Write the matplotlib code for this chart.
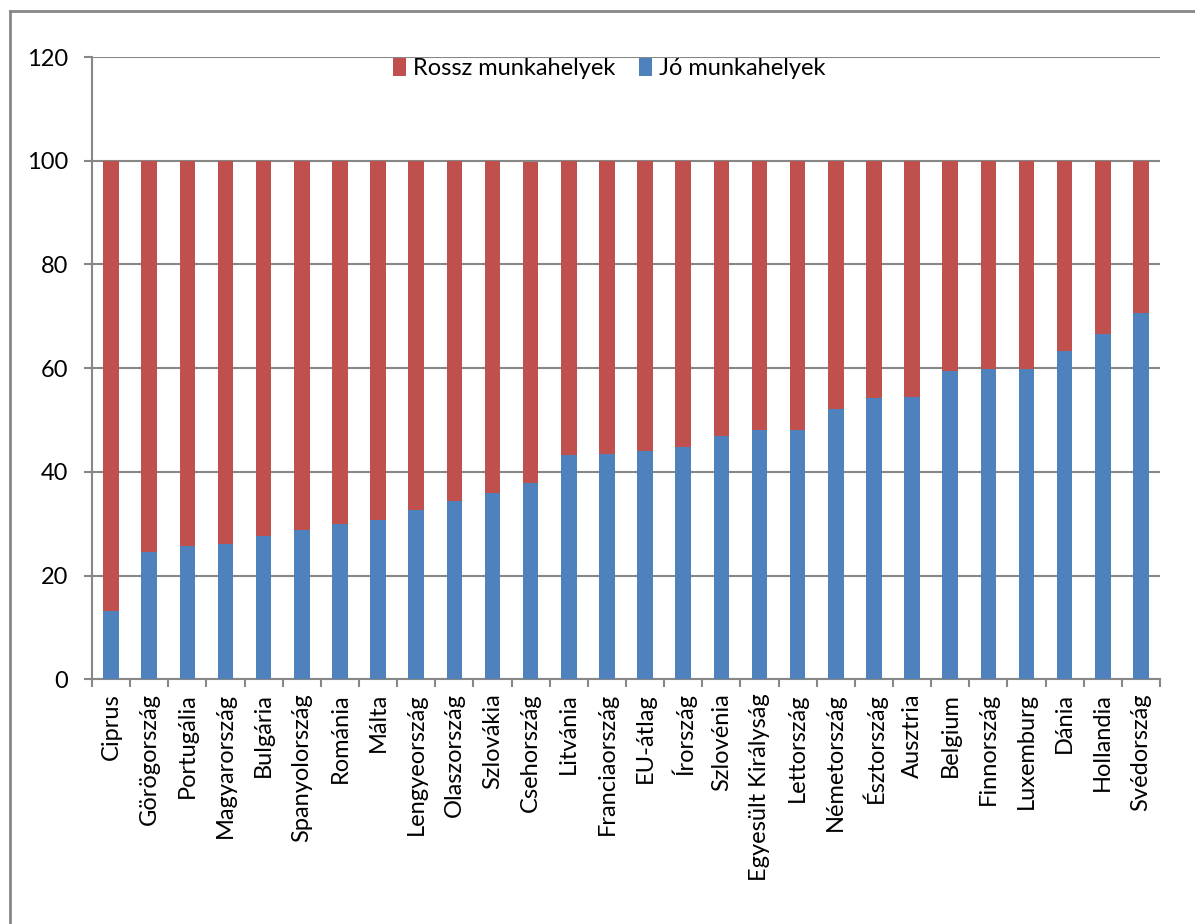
import matplotlib.pyplot as plt
import numpy as np
from matplotlib.lines import Line2D

countries = ['Ciprus', 'Görögország', 'Portugália', 'Magyarország', 'Bulgária',
             'Spanyolország', 'Románia', 'Málta', 'Lengyeország', 'Olaszország',
             'Szlovákia', 'Csehország', 'Litvánia', 'Franciaország', 'EU-átlag',
             'Írország', 'Szlovénia', 'Egyesült Királyság', 'Lettország',
             'Németország', 'Észtország', 'Ausztria', 'Belgium', 'Finnország',
             'Luxemburg', 'Dánia', 'Hollandia', 'Svédország']

# good jobs (blue, bottom) and bad jobs (red, top)
jo = [13.1, 24.5, 25.8, 26.1, 27.7, 28.8, 30.0, 30.7, 32.7, 34.4,
      35.9, 37.9, 43.3, 43.5, 44.0, 44.8, 47.0, 48.1, 48.1,
      52.2, 54.2, 54.4, 59.5, 59.9, 59.9, 63.4, 66.5, 70.7]
rossz = [86.9, 75.5, 74.2, 73.9, 72.3, 71.2, 70.0, 69.3, 67.3, 65.6,
         64.1, 61.8, 56.7, 56.5, 56.0, 55.2, 53.0, 51.9, 51.9,
         47.8, 45.8, 45.6, 40.5, 40.1, 40.1, 36.6, 33.5, 29.3]

plt.rcParams['font.family'] = ['Lato', 'DejaVu Sans']

fig = plt.figure(figsize=(11.95, 9.24), dpi=100)
ax = fig.add_axes([92 / 1195, 1 - 679.3 / 924, (1160 - 92) / 1195, (679.3 - 57) / 924])

grid_c = '#878787'
blue = '#4f81bd'
red = '#c0504d'

x = np.arange(len(countries))
ax.bar(x, jo, width=0.41, color=blue, label='Jó munkahelyek', zorder=3)
ax.bar(x, rossz, width=0.41, bottom=jo, color=red, label='Rossz munkahelyek', zorder=3)

ax.set_xlim(-0.5, len(countries) - 0.5)
ax.set_ylim(0, 120)
ax.set_yticks(range(0, 121, 20))
ax.yaxis.grid(True, color=grid_c, linewidth=1.5, zorder=0)

ax.set_xticks(x)
ax.set_xticklabels(countries, rotation=90, fontsize=17)
ax.set_xticks(np.arange(-0.5, len(countries), 1), minor=True)
ax.tick_params(axis='x', which='major', length=0, pad=10)
ax.tick_params(axis='x', which='minor', length=6, color=grid_c, width=1.5)
ax.tick_params(axis='y', labelsize=17, length=6, color=grid_c, width=1.5, pad=11)

for s in ['top', 'right']:
    ax.spines[s].set_visible(False)
for s in ['left', 'bottom']:
    ax.spines[s].set_color(grid_c)
    ax.spines[s].set_linewidth(1.5)

handles, labels = ax.get_legend_handles_labels()
ax.legend(handles[::-1], labels[::-1], loc='center', bbox_to_anchor=(0.484, 0.982),
          ncol=2, frameon=False, fontsize=17, handlelength=0.55, handleheight=0.8,
          handletextpad=0.3, columnspacing=1.0)

# outer chart border (left and top only visible)
fig.add_artist(Line2D([10 / 1195, 10 / 1195], [0, 1 - 11 / 924], color=grid_c, lw=2))
fig.add_artist(Line2D([10 / 1195, 1], [1 - 11 / 924, 1 - 11 / 924], color=grid_c, lw=2))

fig.savefig('out.png', dpi=100)
